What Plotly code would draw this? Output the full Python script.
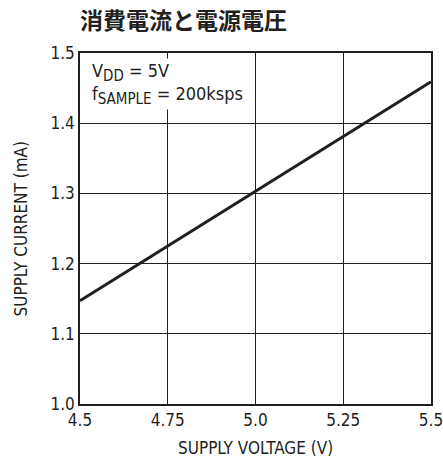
import plotly.graph_objects as go

supply_voltage = [4.5, 5.5]
supply_current = [1.147, 1.459]
x_ticks = [4.5, 4.75, 5.0, 5.25, 5.5]
x_tick_labels = ["4.5", "4.75", "5.0", "5.25", "5.5"]
y_ticks = [1.0, 1.1, 1.2, 1.3, 1.4, 1.5]
y_tick_labels = ["1.0", "1.1", "1.2", "1.3", "1.4", "1.5"]

FONT = "Liberation Sans Narrow, DejaVu Sans Condensed, Arial Narrow, sans-serif"
INK = "#231f20"
PW, PH = 351, 351  # plot area size in px

fig = go.Figure()
fig.add_trace(go.Scatter(x=supply_voltage, y=supply_current, mode="lines",
                         line=dict(color=INK, width=3), showlegend=False))

fig.update_layout(
    width=443, height=466,
    margin=dict(l=80, r=12, t=53, b=62),
    paper_bgcolor="white", plot_bgcolor="white",
    font=dict(family=FONT, color=INK, size=17),
)
fig.update_xaxes(range=[4.5, 5.5], tickvals=x_ticks, ticktext=x_tick_labels,
                 showgrid=True, gridcolor=INK, gridwidth=1,
                 showline=True, linecolor=INK, linewidth=1.5, mirror=True,
                 ticks="", tickfont=dict(size=17, family=FONT), automargin=False,
                 ticklabeloverflow="allow", zeroline=False)
fig.update_yaxes(range=[1.0, 1.5], tickvals=y_ticks, ticktext=y_tick_labels,
                 showgrid=True, gridcolor=INK, gridwidth=1,
                 showline=True, linecolor=INK, linewidth=1.5, mirror=True,
                 ticks="", tickfont=dict(size=17, family=FONT), automargin=False,
                 ticklabeloverflow="allow", zeroline=False)

# chart title
fig.add_annotation(x=-2/PW, y=1+34/PH, xref="paper", yref="paper", xanchor="left", yanchor="middle",
                   text="<b>消費電流と電源電圧</b>", showarrow=False,
                   font=dict(size=23, family="Noto Sans CJK JP", color=INK))
# axis titles
fig.add_annotation(x=0.5, y=-44/PH, xref="paper", yref="paper", xanchor="center", yanchor="middle",
                   text="SUPPLY VOLTAGE (V)", showarrow=False,
                   font=dict(size=17, family=FONT, color=INK))
fig.add_annotation(x=-60/PW, y=0.5, xref="paper", yref="paper", xanchor="center", yanchor="middle",
                   text="SUPPLY CURRENT (mA)", showarrow=False, textangle=-90,
                   font=dict(size=17, family=FONT, color=INK))

SUB = '<sub><span style="font-size:15px">%s</span></sub>'
fig.add_annotation(x=10/PW, y=1-19/PH, xref="paper", yref="paper", xanchor="left", yanchor="middle",
                   text="V" + SUB % "DD" + " = 5V", showarrow=False, align="left",
                   font=dict(size=18, family=FONT, color=INK), bgcolor="white")
fig.add_annotation(x=10/PW, y=1-42/PH, xref="paper", yref="paper", xanchor="left", yanchor="middle",
                   text="f" + SUB % "SAMPLE" + " = 200ksps", showarrow=False, align="left",
                   font=dict(size=18, family=FONT, color=INK), bgcolor="white")

fig.write_html("out.html", config={"displayModeBar": False},
               post_script="document.body.style.margin='0';")
